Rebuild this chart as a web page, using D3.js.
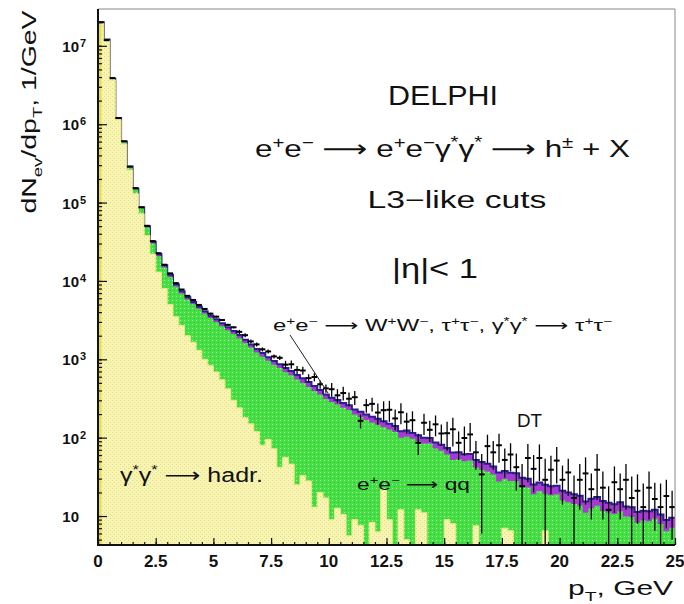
<!DOCTYPE html>
<html><head><meta charset="utf-8">
<script src="https://cdn.jsdelivr.net/npm/d3@7"></script>
<style>body{margin:0;background:#fff} svg{display:block} text{font-family:"Liberation Sans",Arial,"DejaVu Sans",sans-serif;fill:#111}</style>
</head><body>
<svg id="c" width="684" height="604"></svg>
<script>
// ---------- DATA ----------
const binWidth = 0.25;                       // GeV
const xTickValues = [0, 2.5, 5, 7.5, 10, 12.5, 15, 17.5, 20, 22.5, 25];
const xTickLabels = ["0", "2.5", "5", "7.5", "10", "12.5", "15", "17.5", "20", "22.5", "25"];
const yTickValues = [10, 100, 1000, 1e4, 1e5, 1e6, 1e7];
const yTickExps   = ["", "2", "3", "4", "5", "6", "7"];

// gamma* gamma* -> hadr.
const hadr = [1.93e7, 1.16e7, 3.66e6, 1.14e6, 5.6e5, 2.6e5, 1.3e5, 7.2e4, 3.8e4, 2.2e4,
  1.3e4, 8.0e3, 5.0e3, 3.5e3, 2.7e3, 2.0e3, 1650, 1300, 1000, 830,
  690, 550, 420, 300, 240, 180, 150, 120, 80, 95,
  72, 42, 56, 46, 25, 33, 28, 13, 20, 17,
  9, 12.6, 10.5, 5.6, 9, 7.6, 4.2, 8.3, 6.3, 22,
  9, 4, 12, 5, 3, 12, 11, 4, 2.5, 3,
  9, 8, 3, 2, 4, 7.5, 2, 3, 2, 3.5,
  7, 6.5, 2, 1.5, 3, 2, 2.5, 6.5, 2, 3,
  2, 1.5, 2.5, 2, 1, 2, 1.5, 2, 1, 1.5,
  2, 1, 1.5, 2, 1, 1.5, 1, 2, 1, 1.5];
// e+e- -> qq
const qq = [5.0e5, 3.0e5, 1.0e5, 4.5e4, 3.0e4, 2.3e4, 1.7e4, 1.25e4, 1.0e4, 8.0e3,
  7600, 6800, 6200, 5000, 4200, 3800, 3400, 3100, 2850, 2540,
  2300, 2100, 1920, 1800, 1620, 1440, 1260, 1100, 1000, 860,
  780, 730, 630, 580, 526, 467, 415, 382, 335, 294,
  276, 253, 231, 220, 188, 176, 164, 148, 140, 114,
  118, 114, 88, 98, 94, 78, 73, 80, 70, 65,
  52, 44, 50, 48, 47, 34, 37, 34, 32, 24,
  22.6, 21.5, 26, 22.5, 20.2, 17, 18.3, 12.7, 16.4, 16,
  13.75, 13.5, 11.75, 11.65, 10, 10.45, 12, 9.6, 10.1, 9.1,
  9.5, 8.9, 8.2, 6.2, 7.8, 7.1, 8.3, 5.9, 5.4, 5.6];
// e+e- -> W+W-, tau+tau-, gamma*gamma* -> tau+tau-
const wwtautau = [2.0e5, 1.0e5, 4.0e4, 1.5e4, 1.0e4, 6.0e3, 3.5e3, 2.5e3, 2.0e3, 1.6e3,
  1300, 1000, 800, 600, 500, 400, 350, 300, 260, 230,
  250, 230, 220, 200, 180, 160, 140, 130, 120, 110,
  100, 95, 90, 85, 80, 75, 70, 62, 52, 44,
  39, 37, 35, 33, 32, 31, 30, 29, 28, 26,
  24, 23, 21, 20, 18, 17, 16, 15, 14, 13,
  13, 12.5, 12, 11.5, 11, 10.5, 10, 9.5, 9, 8.5,
  8, 7.6, 7.2, 6.9, 6.6, 6.3, 6, 5.8, 5.6, 5.4,
  5.25, 5, 4.75, 4.55, 4.35, 4.15, 4.05, 3.9, 3.7, 3.5,
  3.45, 3.3, 3.2, 3.1, 2.9, 2.9, 2.75, 2.6, 2.5, 2.4];
// DT data
const dataDT = [2.0e7, 1.18e7, 3.88e6, 1.2e6, 6.06e5, 2.87e5, 1.53e5, 8.7e4, 5.05e4, 3.22e4,
  2.26e4, 1.61e4, 1.25e4, 9370, 7770, 6450, 5720, 4940, 4390, 3820,
  3500, 3170, 2750, 2560, 2240, 2030, 1690, 1550, 1340, 1260,
  1089, 1044, 854, 864, 732, 719, 575, 594, 480, 426,
  415, 347, 371, 314, 328, 164, 260, 270, 209, 224,
  227, 176, 211, 160, 167, 86, 155, 126, 148, 113,
  114, 128, 86, 99, 110, 65, 34, 78, 65, 80,
  52, 61, 42, 24, 55, 40, 55, 29, 39, 51,
  29, 36, 17, 29, 35, 22, 39, 23, 12, 27,
  22, 29, 17, 21, 13, 23, 16.5, 13, 18, 13];
const dataErr = [1e5, 6e4, 2e4, 6e3, 3e3, 1400, 800, 440, 500, 320,
  230, 160, 130, 95, 78, 65, 170, 150, 130, 115,
  105, 95, 83, 77, 135, 122, 101, 93, 80, 76,
  65, 63, 102, 104, 88, 86, 69, 71, 58, 51,
  83, 69, 74, 63, 66, 33, 52, 54, 63, 67,
  68, 53, 63, 48, 50, 26, 47, 38, 44, 34,
  46, 51, 34, 40, 44, 26, 28, 31, 26, 32,
  21, 24, 21, 22, 28, 20, 27, 25, 20, 25,
  15, 18, 16, 17, 21, 13, 23, 14, 12, 16,
  13, 17, 15, 13, 13, 14, 10, 13, 11, 8];

// ---------- LAYOUT ----------
const L = 98, R = 675, T = 9, B = 545;
const svg = d3.select("#c");
const x = d3.scaleLinear([0, 25], [L, R]);
const yMin = 4.27, yMax = 2.95e7;
const y = d3.scaleLog([yMin, yMax], [B, T]);
const edges = hadr.map((_, i) => i * binWidth);
const yc = v => y(Math.max(yMin, Math.min(yMax, v)));

const defs = svg.append("defs");
const py = defs.append("pattern").attr("id", "py").attr("width", 4).attr("height", 4).attr("patternUnits", "userSpaceOnUse");
py.append("rect").attr("width", 4).attr("height", 4).attr("fill", "#f7f4b4");
py.append("rect").attr("x", 0).attr("y", 0).attr("width", 1).attr("height", 1).attr("fill", "#e4dd80");
py.append("rect").attr("x", 2).attr("y", 2).attr("width", 1).attr("height", 1).attr("fill", "#e4dd80");
const pg = defs.append("pattern").attr("id", "pg").attr("width", 4).attr("height", 4).attr("patternUnits", "userSpaceOnUse");
pg.append("rect").attr("width", 4).attr("height", 4).attr("fill", "#46e046");
pg.append("rect").attr("x", 0).attr("y", 0).attr("width", 1).attr("height", 1).attr("fill", "#a8f4a0");
pg.append("rect").attr("x", 2).attr("y", 2).attr("width", 1).attr("height", 1).attr("fill", "#2fc42f");
defs.append("clipPath").attr("id", "clip").append("rect").attr("x", L).attr("y", T).attr("width", R - L).attr("height", B - T);

// stacked cumulative series
const cumY = hadr;
const cumG = hadr.map((v, i) => v + qq[i]);
const cumP = cumG.map((v, i) => v + wwtautau[i]);
const steps = vals => vals.flatMap((v, i) => [[edges[i], v], [edges[i] + binWidth, v]]);
const area = d3.area().x(d => x(d[0])).y0(B).y1(d => yc(d[1]));
const line = d3.line().x(d => x(d[0])).y(d => yc(d[1]));

const plot = svg.append("g").attr("clip-path", "url(#clip)");
plot.append("path").attr("d", area(steps(cumP))).attr("fill", "#a83ad4");
plot.append("path").attr("d", line(steps(cumP))).attr("fill", "none").attr("stroke", "#2a1e8c").attr("stroke-width", 2);
plot.append("path").attr("d", area(steps(cumG))).attr("fill", "url(#pg)");
plot.append("path").attr("d", area(steps(cumY))).attr("fill", "url(#py)");
plot.append("path").attr("d", line(steps(cumY))).attr("fill", "none").attr("stroke", "#ece77c").attr("stroke-width", 1);
plot.append("line").attr("x1", L + 2).attr("x2", L + 2).attr("y1", yc(hadr[0])).attr("y2", B).attr("stroke", "#e6e04a").attr("stroke-width", 3);

// data crosses
const dg = plot.append("g").attr("stroke", "#000").attr("stroke-width", 1.3);
dataDT.forEach((v, i) => {
  const e = dataErr[i];
  dg.append("line").attr("x1", x(edges[i])).attr("x2", x(edges[i] + binWidth)).attr("y1", yc(v)).attr("y2", yc(v)).attr("stroke-width", 2);
  dg.append("line").attr("x1", x(edges[i] + binWidth / 2)).attr("x2", x(edges[i] + binWidth / 2))
    .attr("y1", yc(v + e)).attr("y2", yc(Math.max(v - e, yMin * 0.9)));
});

// frame
svg.append("line").attr("x1", L).attr("x2", R).attr("y1", T).attr("y2", T).attr("stroke", "#888").attr("stroke-width", 1);
svg.append("line").attr("x1", R).attr("x2", R).attr("y1", T).attr("y2", B).attr("stroke", "#888").attr("stroke-width", 1);

// axes (ticks inward)
const xMinor = d3.range(0, 25.001, 0.5);
svg.append("g").attr("transform", `translate(0,${B})`)
  .call(d3.axisBottom(x).tickValues(xMinor).tickSize(-3).tickFormat(""))
  .call(g => g.select(".domain").remove());
svg.append("g").attr("transform", `translate(0,${B})`)
  .call(d3.axisBottom(x).tickValues(xTickValues).tickSize(-7).tickFormat(""))
  .call(g => g.select(".domain").remove());
const yMinor = [];
for (let d = 1; d <= 1e7; d *= 10) for (let k = 1; k <= 9; k++) { const v = d * k; if (v >= yMin && v <= yMax) yMinor.push(v); }
svg.append("g").attr("transform", `translate(${L},0)`)
  .call(d3.axisLeft(y).tickValues(yMinor).tickSize(-4).tickFormat(""))
  .call(g => g.select(".domain").remove());
svg.append("g").attr("transform", `translate(${L},0)`)
  .call(d3.axisLeft(y).tickValues(yTickValues).tickSize(-9).tickFormat(""))
  .call(g => g.select(".domain").remove());
svg.selectAll(".tick line").attr("stroke", "#111").attr("stroke-width", 1.2);
svg.append("line").attr("x1", L).attr("x2", L).attr("y1", T).attr("y2", B + 1).attr("stroke", "#111").attr("stroke-width", 2);
svg.append("line").attr("x1", L - 1).attr("x2", R).attr("y1", B).attr("y2", B).attr("stroke", "#111").attr("stroke-width", 2);

// tick labels
xTickValues.forEach((v, i) => {
  svg.append("text").attr("x", x(v)).attr("y", 567).attr("text-anchor", "middle")
    .attr("font-size", 17).attr("font-weight", "bold").text(xTickLabels[i]);
});
yTickValues.forEach((v, i) => {
  const yy = y(v);
  svg.append("text").attr("x", 79).attr("y", yy + 6).attr("text-anchor", "end")
    .attr("font-size", 15).attr("font-weight", "bold").text("10");
  if (yTickExps[i]) svg.append("text").attr("x", 80).attr("y", yy + 1)
    .attr("font-size", 11).attr("font-weight", "bold").text(yTickExps[i]);
});

// rich text helper
function rich(sel, x0, y0, parts, size, opts = {}) {
  const t = sel.append("text").attr("x", x0).attr("y", y0).attr("font-size", size)
    .attr("text-anchor", opts.anchor || "start");
  if (opts.transform) t.attr("transform", opts.transform);
  let shift = 0;
  parts.forEach(([s, m]) => {
    const target = m === "sup" ? -0.38 * size : m === "sub" ? 0.28 * size : 0;
    const ts = t.append("tspan").text(s).attr("dy", target - shift);
    if (m) ts.attr("font-size", size * 0.65);
    shift = target;
  });
  if (opts.len) t.attr("textLength", opts.len).attr("lengthAdjust", "spacingAndGlyphs");
  return t;
}
const A = "\u27F6";
rich(svg, 443, 105, [["DELPHI"]], 28, { anchor: "middle", len: 110 });
rich(svg, 255, 157, [["e"], ["+", "sup"], ["e"], ["\u2212", "sup"], [" " + A + " e"], ["+", "sup"], ["e"], ["\u2212", "sup"],
  ["\u03B3"], ["*", "sup"], ["\u03B3"], ["*", "sup"], [" " + A + " h"], ["\u00B1", "sup"], [" + X"]], 24, { len: 375 });
rich(svg, 457, 208, [["L3\u2212like cuts"]], 23, { anchor: "middle", len: 179 });
rich(svg, 435, 278, [["|\u03B7|< 1"]], 27, { anchor: "middle", len: 86 });
rich(svg, 273, 331, [["e"], ["+", "sup"], ["e"], ["\u2212", "sup"], [" " + A + " W"], ["+", "sup"], ["W"], ["\u2212", "sup"],
  [", \u03C4"], ["+", "sup"], ["\u03C4"], ["\u2212", "sup"], [", \u03B3"], ["*", "sup"], ["\u03B3"], ["*", "sup"],
  [" " + A + " \u03C4"], ["+", "sup"], ["\u03C4"], ["\u2212", "sup"]], 16, { len: 339 });
svg.append("line").attr("x1", 290).attr("y1", 335).attr("x2", 328).attr("y2", 393).attr("stroke", "#222").attr("stroke-width", 1);
rich(svg, 517, 427, [["DT"]], 18, { len: 25 });
rich(svg, 357, 490, [["e"], ["+", "sup"], ["e"], ["\u2212", "sup"], [" " + A + " qq"]], 16, { len: 113 });
rich(svg, 120, 482, [["\u03B3"], ["*", "sup"], ["\u03B3"], ["*", "sup"], [" " + A + " hadr."]], 20, { len: 143 });

// axis titles
rich(svg, 568, 595, [["p"], ["T", "sub"], [", GeV"]], 21, { len: 105 });
rich(svg, 0, 0, [["dN"], ["ev", "sub"], ["/dp"], ["T", "sub"], [", 1/GeV"]], 21,
  { anchor: "middle", transform: "translate(36,112) rotate(-90)", len: 203 });
</script>
</body></html>
